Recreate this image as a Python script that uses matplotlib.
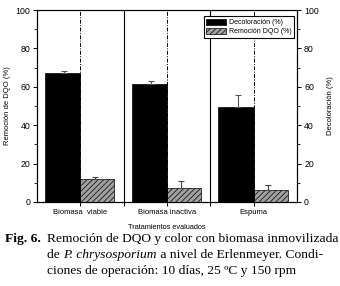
import matplotlib
matplotlib.use("Agg")
import matplotlib.pyplot as plt
import numpy as np
from matplotlib.patches import Patch

categories = ["Biomasa  viable", "Biomasa inactiva", "Espuma"]
decoloracion = [67.2, 61.5, 49.5]
decoloracion_err = [1.0, 1.5, 6.2]
remocion_dqo = [12.0, 7.1, 6.1]
remocion_dqo_err = [0.9, 3.8, 2.6]
yticks = [0, 20, 40, 60, 80, 100]

plt.rcParams['font.family'] = ['Liberation Sans', 'DejaVu Sans']

fig = plt.figure(figsize=(3.4, 2.86), dpi=100)
ax = fig.add_axes([0.109, 0.294, 0.765, 0.671])
ax2 = ax.twinx()

x = np.arange(len(categories))
w = 0.41

ax2.bar(x - w / 2, decoloracion, width=w, color='black', edgecolor='black', linewidth=0.5, zorder=3)
ax2.errorbar(x - w / 2 + 0.02, decoloracion, yerr=[np.zeros(3), decoloracion_err], fmt='none',
             ecolor='#555555', elinewidth=0.8, capsize=2, capthick=0.8, zorder=4)
plt.rcParams['hatch.linewidth'] = 0.5
ax.bar(x + w / 2 - 0.01, remocion_dqo, width=w - 0.02, color='#a0a0a0', edgecolor='black', hatch='//////',
       linewidth=0.5, zorder=3)
ax.errorbar(x + w / 2 - 0.04, remocion_dqo, yerr=[np.zeros(3), remocion_dqo_err], fmt='none',
            ecolor='#444444', elinewidth=0.8, capsize=2, capthick=0.8, zorder=4)

for xi in [0.5, 1.5]:
    ax.axvline(xi, color='black', linewidth=0.8, zorder=1)
for xi in x:
    ax.axvline(xi, color='black', linewidth=0.7, linestyle=(0, (4, 1.5, 1, 1.5)), zorder=1)

for a in (ax, ax2):
    a.set_xlim(-0.5, 2.5)
    a.set_ylim(0, 100)
    a.set_yticks(yticks)
    a.set_yticks([10, 30, 50, 70, 90], minor=True)
    a.tick_params(axis='y', labelsize=6.3, length=3, width=0.7, pad=2)
    a.tick_params(axis='y', which='minor', length=2, width=0.6)
    for s in a.spines.values():
        s.set_linewidth(0.8)

ax.set_xticks(x)
ax.set_xticklabels(categories)
ax.set_xticks([0.5, 1.5], minor=True)
ax.tick_params(axis='x', labelsize=5.5, length=3, width=0.7, pad=2)
ax.tick_params(axis='x', which='minor', length=3, width=0.7)

ax.set_ylabel("Remoción de DQO (%)", fontsize=5.5, labelpad=3)
ax2.set_ylabel("Decoloración (%)", fontsize=5.5, labelpad=6)
ax.set_xlabel("Tratamientos evaluados", fontsize=5.3, labelpad=6)

handles = [Patch(facecolor='black', edgecolor='black', linewidth=0.5),
           Patch(facecolor='#a0a0a0', edgecolor='black', hatch='//////', linewidth=0.5)]
leg = ax2.legend(handles, ["Decoloración (%)", "Remoción DQO (%)"], loc='upper right',
                 bbox_to_anchor=(1.0, 0.985), fontsize=5, frameon=True, fancybox=False,
                 edgecolor='black', framealpha=1, handlelength=2.8, handleheight=1.0,
                 borderpad=0.35, labelspacing=0.25, handletextpad=0.4)
leg.get_frame().set_linewidth(0.8)
leg.set_zorder(10)

serif = ['Liberation Serif', 'DejaVu Serif']
fs = 9.7
y1, y2, y3 = 1 - 239 / 286, 1 - 255 / 286, 1 - 271 / 286
fig.text(0.015, y1, "Fig. 6.", fontsize=fs, fontweight='bold', family=serif, va='center')
fig.text(0.138, y1, "Remoción de DQO y color con biomasa inmovilizada",
         fontsize=fs, family=serif, va='center')
t1 = fig.text(0.138, y2, "de ", fontsize=fs, family=serif, va='center')
fig.canvas.draw()
r = fig.canvas.get_renderer()
bb = t1.get_window_extent(r)
x1 = bb.x1 / fig.bbox.width
t2 = fig.text(x1, y2, "P. chrysosporium", fontsize=fs, family=serif, style='italic', va='center')
bb2 = t2.get_window_extent(r)
x2 = bb2.x1 / fig.bbox.width
fig.text(x2, y2, " a nivel de Erlenmeyer. Condi-", fontsize=fs, family=serif, va='center')
fig.text(0.138, y3, "ciones de operación: 10 días, 25 ºC y 150 rpm", fontsize=fs, family=serif, va='center')

fig.savefig("out.png", dpi=100)
